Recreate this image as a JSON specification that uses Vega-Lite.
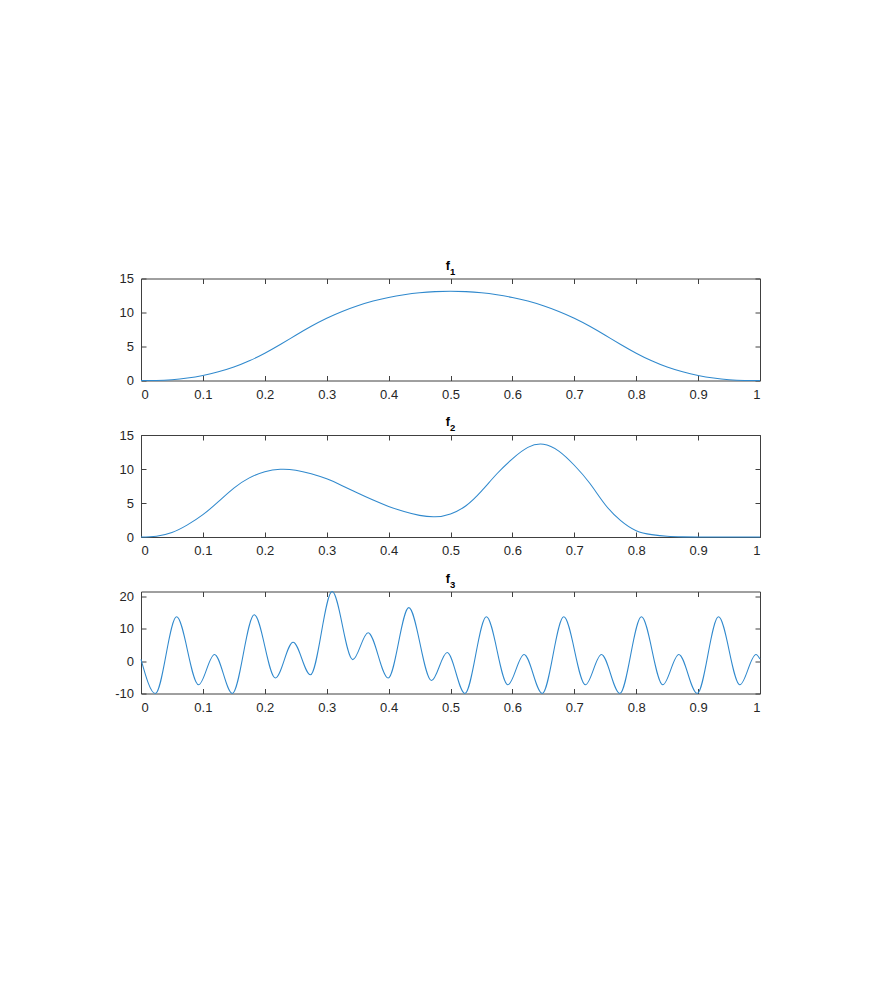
{
  "$schema": "https://vega.github.io/schema/vega-lite/v6.json",
  "background": "white",
  "padding": {"left": 114, "top": 258.5, "right": 5, "bottom": 5},
  "spacing": 54.5,
  "bounds": "flush",
  "config": {
    "view": {"stroke": "#404040", "strokeWidth": 1},
    "axis": {"grid": false, "domain": false, "tickColor": "#404040", "tickSize": -5, "tickWidth": 1, "labelFont": "Liberation Sans", "labelFontSize": 13, "labelColor": "#262626", "title": null},
    "axisBottom": {"labelPadding": 12.5},
    "axisLeft": {"labelPadding": 12.5},
    "text": {"font": "Liberation Sans", "fontWeight": "bold", "color": "#000000", "baseline": "alphabetic"},
    "line": {"color": "#3089cd", "strokeWidth": 1.05}
  },
  "datasets": {
    "title": [{"t": 1}],
    "f1": [
      {"x": 0, "y": 0}, {"x": 0.025, "y": 0.01}, {"x": 0.05, "y": 0.12}, {"x": 0.075, "y": 0.36},
      {"x": 0.1, "y": 0.74}, {"x": 0.125, "y": 1.27}, {"x": 0.15, "y": 1.97}, {"x": 0.175, "y": 2.89},
      {"x": 0.2, "y": 4.01}, {"x": 0.225, "y": 5.29}, {"x": 0.25, "y": 6.65}, {"x": 0.275, "y": 7.97},
      {"x": 0.3, "y": 9.15}, {"x": 0.325, "y": 10.15}, {"x": 0.35, "y": 10.99}, {"x": 0.375, "y": 11.68},
      {"x": 0.4, "y": 12.21}, {"x": 0.425, "y": 12.61}, {"x": 0.45, "y": 12.9}, {"x": 0.475, "y": 13.07},
      {"x": 0.5, "y": 13.13},
      {"x": 0.525, "y": 13.07}, {"x": 0.55, "y": 12.9}, {"x": 0.575, "y": 12.61}, {"x": 0.6, "y": 12.21},
      {"x": 0.625, "y": 11.68}, {"x": 0.65, "y": 10.99}, {"x": 0.675, "y": 10.15}, {"x": 0.7, "y": 9.15},
      {"x": 0.725, "y": 7.97}, {"x": 0.75, "y": 6.65}, {"x": 0.775, "y": 5.29}, {"x": 0.8, "y": 4.01},
      {"x": 0.825, "y": 2.89}, {"x": 0.85, "y": 1.97}, {"x": 0.875, "y": 1.27}, {"x": 0.9, "y": 0.74},
      {"x": 0.925, "y": 0.36}, {"x": 0.95, "y": 0.12}, {"x": 0.975, "y": 0.01}, {"x": 1, "y": 0}
    ],
    "f2": [
      {"x": 0, "y": 0}, {"x": 0.025, "y": 0.12}, {"x": 0.05, "y": 0.65}, {"x": 0.075, "y": 1.78},
      {"x": 0.1, "y": 3.28}, {"x": 0.125, "y": 5.2}, {"x": 0.15, "y": 7.2}, {"x": 0.175, "y": 8.7},
      {"x": 0.2, "y": 9.6}, {"x": 0.225, "y": 9.95}, {"x": 0.25, "y": 9.82}, {"x": 0.275, "y": 9.3},
      {"x": 0.3, "y": 8.55}, {"x": 0.325, "y": 7.55}, {"x": 0.35, "y": 6.47}, {"x": 0.375, "y": 5.43},
      {"x": 0.4, "y": 4.5}, {"x": 0.425, "y": 3.75}, {"x": 0.45, "y": 3.18}, {"x": 0.475, "y": 2.97},
      {"x": 0.5, "y": 3.4}, {"x": 0.525, "y": 4.6}, {"x": 0.55, "y": 6.75}, {"x": 0.575, "y": 9.3},
      {"x": 0.6, "y": 11.5}, {"x": 0.625, "y": 13.18}, {"x": 0.65, "y": 13.64}, {"x": 0.675, "y": 12.63},
      {"x": 0.7, "y": 10.55}, {"x": 0.725, "y": 7.9}, {"x": 0.75, "y": 4.75}, {"x": 0.775, "y": 2.4},
      {"x": 0.8, "y": 0.92}, {"x": 0.825, "y": 0.35}, {"x": 0.85, "y": 0.1}, {"x": 0.875, "y": 0.02},
      {"x": 0.9, "y": 0.0}, {"x": 0.95, "y": 0.0}, {"x": 1, "y": 0}
    ],
    "f3": [
      {"x": 0, "y": 0.6}, {"x": 0.0232, "y": -10}, {"x": 0.0575, "y": 13.75}, {"x": 0.093, "y": -7.3},
      {"x": 0.1187, "y": 2.1}, {"x": 0.1475, "y": -10}, {"x": 0.183, "y": 14.4}, {"x": 0.2171, "y": -5.2},
      {"x": 0.2457, "y": 5.9}, {"x": 0.2737, "y": -4.2}, {"x": 0.3088, "y": 21.6}, {"x": 0.3421, "y": 0.5},
      {"x": 0.3669, "y": 8.85}, {"x": 0.3993, "y": -5.2}, {"x": 0.4326, "y": 16.6}, {"x": 0.4693, "y": -6.0},
      {"x": 0.4946, "y": 2.7}, {"x": 0.5232, "y": -10}, {"x": 0.558, "y": 13.75}, {"x": 0.5927, "y": -7.3},
      {"x": 0.6188, "y": 2.1}, {"x": 0.6482, "y": -10}, {"x": 0.683, "y": 13.75}, {"x": 0.718, "y": -7.3},
      {"x": 0.7438, "y": 2.1}, {"x": 0.7735, "y": -10}, {"x": 0.8085, "y": 13.75}, {"x": 0.843, "y": -7.3},
      {"x": 0.8688, "y": 2.1}, {"x": 0.8985, "y": -10}, {"x": 0.933, "y": 13.75}, {"x": 0.9675, "y": -7.3},
      {"x": 0.9935, "y": 2.1}, {"x": 1, "y": 0.7}
    ]
  },
  "vconcat": [
    {
      "width": 619, "height": 102,
      "layer": [
        {"data": {"name": "f1"},
         "mark": {"type": "line", "interpolate": "natural"},
         "encoding": {
           "x": {"field": "x", "type": "quantitative", "scale": {"domain": [0, 1], "nice": false, "zero": false}, "axis": {"orient": "bottom", "values": [0, 0.1, 0.2, 0.3, 0.4, 0.5, 0.6, 0.7, 0.8, 0.9, 1], "format": "~g", "title": null}},
           "y": {"field": "y", "type": "quantitative", "scale": {"domain": [0, 15], "nice": false, "zero": false}, "axis": {"orient": "left", "values": [0, 5, 10, 15], "title": null}}
         }},
        {"data": {"name": "f1"},
         "mark": {"type": "line", "opacity": 0},
         "encoding": {
           "x": {"field": "x", "type": "quantitative", "axis": {"orient": "top", "labels": false, "values": [0, 0.1, 0.2, 0.3, 0.4, 0.5, 0.6, 0.7, 0.8, 0.9, 1], "title": null}},
           "y": {"field": "y", "type": "quantitative", "axis": {"orient": "right", "labels": false, "values": [0, 5, 10, 15], "title": null}}
         }},
        {"data": {"name": "title"},
         "mark": {"type": "text", "text": "f", "fontSize": 12.5, "align": "right", "dx": -0.5, "dy": -9},
         "encoding": {"x": {"datum": 0.5, "type": "quantitative", "axis": null}, "y": {"datum": 15, "type": "quantitative", "axis": null}}},
        {"data": {"name": "title"},
         "mark": {"type": "text", "text": "1", "fontSize": 9.5, "align": "left", "dx": -0.5, "dy": -4},
         "encoding": {"x": {"datum": 0.5, "type": "quantitative", "axis": null}, "y": {"datum": 15, "type": "quantitative", "axis": null}}}
      ],
      "resolve": {"axis": {"x": "independent", "y": "independent"}}
    },
    {
      "width": 619, "height": 102,
      "layer": [
        {"data": {"name": "f2"},
         "mark": {"type": "line", "interpolate": "natural"},
         "encoding": {
           "x": {"field": "x", "type": "quantitative", "scale": {"domain": [0, 1], "nice": false, "zero": false}, "axis": {"orient": "bottom", "values": [0, 0.1, 0.2, 0.3, 0.4, 0.5, 0.6, 0.7, 0.8, 0.9, 1], "format": "~g", "title": null}},
           "y": {"field": "y", "type": "quantitative", "scale": {"domain": [0, 15], "nice": false, "zero": false}, "axis": {"orient": "left", "values": [0, 5, 10, 15], "title": null}}
         }},
        {"data": {"name": "f2"},
         "mark": {"type": "line", "opacity": 0},
         "encoding": {
           "x": {"field": "x", "type": "quantitative", "axis": {"orient": "top", "labels": false, "values": [0, 0.1, 0.2, 0.3, 0.4, 0.5, 0.6, 0.7, 0.8, 0.9, 1], "title": null}},
           "y": {"field": "y", "type": "quantitative", "axis": {"orient": "right", "labels": false, "values": [0, 5, 10, 15], "title": null}}
         }},
        {"data": {"name": "title"},
         "mark": {"type": "text", "text": "f", "fontSize": 12.5, "align": "right", "dx": -0.5, "dy": -9},
         "encoding": {"x": {"datum": 0.5, "type": "quantitative", "axis": null}, "y": {"datum": 15, "type": "quantitative", "axis": null}}},
        {"data": {"name": "title"},
         "mark": {"type": "text", "text": "2", "fontSize": 9.5, "align": "left", "dx": -0.5, "dy": -4},
         "encoding": {"x": {"datum": 0.5, "type": "quantitative", "axis": null}, "y": {"datum": 15, "type": "quantitative", "axis": null}}}
      ],
      "resolve": {"axis": {"x": "independent", "y": "independent"}}
    },
    {
      "width": 619, "height": 102,
      "layer": [
        {"data": {"name": "f3"},
         "mark": {"type": "line", "interpolate": "monotone"},
         "encoding": {
           "x": {"field": "x", "type": "quantitative", "scale": {"domain": [0, 1], "nice": false, "zero": false}, "axis": {"orient": "bottom", "values": [0, 0.1, 0.2, 0.3, 0.4, 0.5, 0.6, 0.7, 0.8, 0.9, 1], "format": "~g", "title": null}},
           "y": {"field": "y", "type": "quantitative", "scale": {"domain": [-10, 21.6], "nice": false, "zero": false}, "axis": {"orient": "left", "values": [-10, 0, 10, 20], "labelExpr": "'' + datum.value", "title": null}}
         }},
        {"data": {"name": "f3"},
         "mark": {"type": "line", "opacity": 0},
         "encoding": {
           "x": {"field": "x", "type": "quantitative", "axis": {"orient": "top", "labels": false, "values": [0, 0.1, 0.2, 0.3, 0.4, 0.5, 0.6, 0.7, 0.8, 0.9, 1], "title": null}},
           "y": {"field": "y", "type": "quantitative", "axis": {"orient": "right", "labels": false, "values": [-10, 0, 10, 20], "title": null}}
         }},
        {"data": {"name": "title"},
         "mark": {"type": "text", "text": "f", "fontSize": 12.5, "align": "right", "dx": -0.5, "dy": -9},
         "encoding": {"x": {"datum": 0.5, "type": "quantitative", "axis": null}, "y": {"datum": 21.6, "type": "quantitative", "axis": null}}},
        {"data": {"name": "title"},
         "mark": {"type": "text", "text": "3", "fontSize": 9.5, "align": "left", "dx": -0.5, "dy": -4},
         "encoding": {"x": {"datum": 0.5, "type": "quantitative", "axis": null}, "y": {"datum": 21.6, "type": "quantitative", "axis": null}}}
      ],
      "resolve": {"axis": {"x": "independent", "y": "independent"}}
    }
  ]
}
